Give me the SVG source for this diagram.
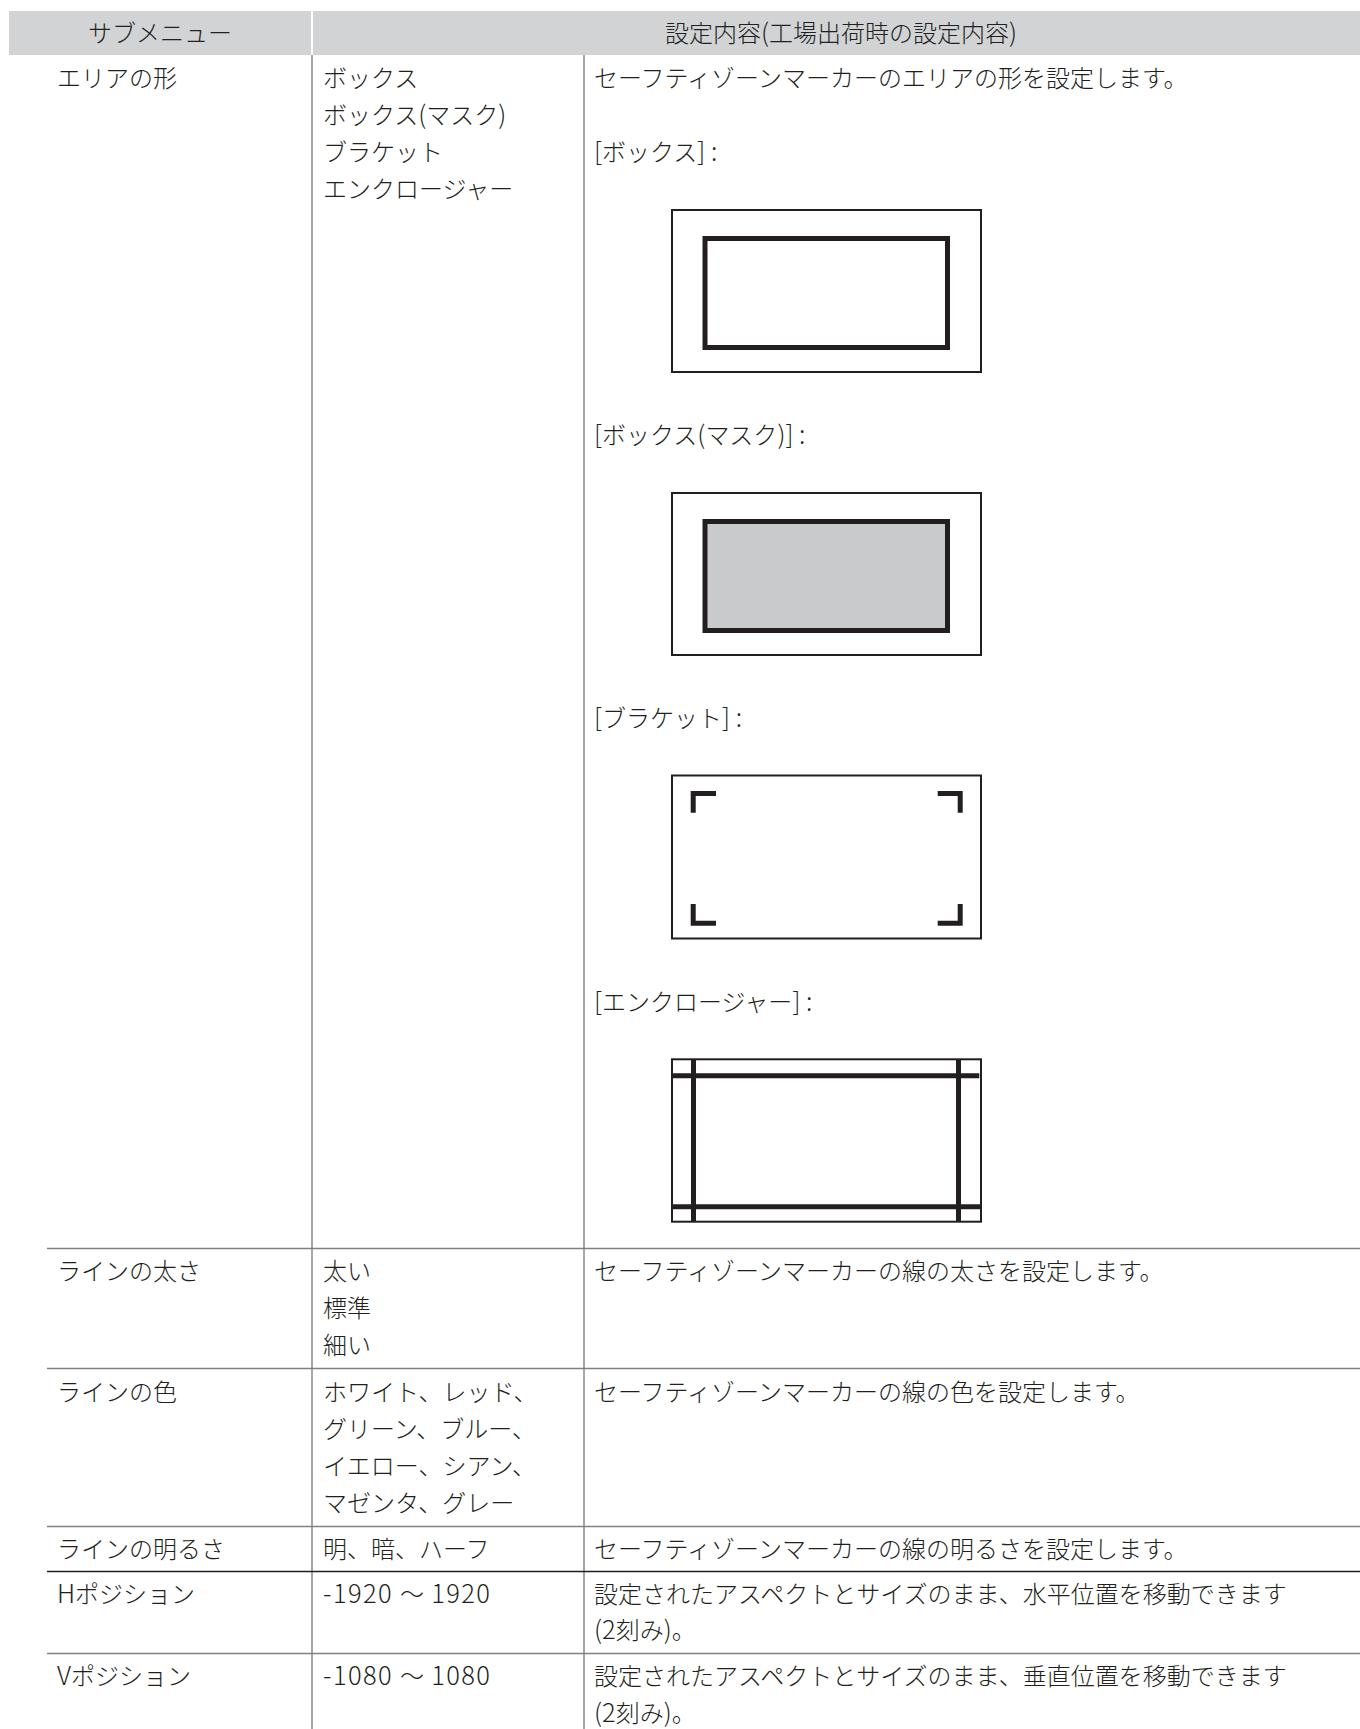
<svg xmlns="http://www.w3.org/2000/svg" width="1360" height="1729" viewBox="0 0 1360 1729">
<style>
text{font-family:"Noto Sans CJK JP","Liberation Sans",sans-serif;font-size:24px;fill:#231f20;font-weight:300}
.lat{font-size:25.5px}
.num{font-size:25.5px;letter-spacing:1.4px}
.mid{text-anchor:middle}
.grid{stroke:#808080;stroke-width:1.4;fill:none}
.dark{stroke:#231f20;stroke-width:1.4;fill:none}
.frame{fill:#fff;stroke:#231f20;stroke-width:2}
.thick{fill:none;stroke:#231f20;stroke-width:5}
.hdr{fill:#d1d3d4}
</style>
<rect width="1360" height="1729" fill="#fff"/>
<g id="header">
<rect class="hdr" x="9" y="11" width="302" height="44"/>
<rect class="hdr" x="313" y="11" width="1047" height="44"/>
<text class="mid" x="160" y="41.5">サブメニュー</text>
<text class="mid" x="841" y="41.5">設定内容<tspan class="lat">(</tspan>工場出荷時の設定内容<tspan class="lat">)</tspan></text>
</g>
<g id="grid-lines">
<line class="grid" x1="312" y1="55" x2="312" y2="1729"/>
<line class="grid" x1="584" y1="55" x2="584" y2="1729"/>
<line class="grid" x1="47" y1="1248.5" x2="1360" y2="1248.5"/>
<line class="grid" x1="47" y1="1368.5" x2="1360" y2="1368.5"/>
<line class="grid" x1="47" y1="1526.5" x2="1360" y2="1526.5"/>
<line class="dark" x1="47" y1="1571.5" x2="1360" y2="1571.5"/>
<line class="grid" x1="47" y1="1653.5" x2="1360" y2="1653.5"/>
</g>
<g id="row-area-shape">
<text x="57" y="86.5">エリアの形</text>
<text x="323" y="86.5">ボックス</text>
<text x="323" y="123.5">ボックス<tspan class="lat">(</tspan>マスク<tspan class="lat">)</tspan></text>
<text x="323" y="160.5">ブラケット</text>
<text x="323" y="197.5">エンクロージャー</text>
<text x="594" y="86.5">セーフティゾーンマーカーのエリアの形を設定します。</text>
<text x="594" y="160.5"><tspan class="lat">[</tspan>ボックス<tspan class="lat">] :</tspan></text>
<text x="594" y="444"><tspan class="lat">[</tspan>ボックス<tspan class="lat">(</tspan>マスク<tspan class="lat">)] :</tspan></text>
<text x="594" y="727"><tspan class="lat">[</tspan>ブラケット<tspan class="lat">] :</tspan></text>
<text x="594" y="1011"><tspan class="lat">[</tspan>エンクロージャー<tspan class="lat">] :</tspan></text>
</g>
<g id="fig-box">
<rect class="frame" x="672" y="210" width="309" height="162"/>
<rect class="thick" x="705" y="238.5" width="242.5" height="109"/>
</g>
<g id="fig-box-mask">
<rect class="frame" x="672" y="493" width="309" height="162"/>
<rect class="thick" x="705" y="521.5" width="242.5" height="109" style="fill:#c9cacc"/>
</g>
<g id="fig-bracket">
<rect class="frame" x="672" y="775.5" width="309" height="163"/>
<path class="thick" d="M716 793.5H693.2V812.7M937.7 793.5H960.2V812.7M693.2 904V923.2H716M960.2 904V923.2H937.7"/>
</g>
<g id="fig-enclosure">
<rect class="frame" x="672" y="1059.3" width="309" height="162.4"/>
<path class="thick" d="M671 1075.8H979.3M673 1206.8H981.7M693.5 1059V1222M958.5 1059V1222"/>
</g>
<g id="row-line-width">
<text x="57" y="1280">ラインの太さ</text>
<text x="323" y="1280">太い</text>
<text x="323" y="1317">標準</text>
<text x="323" y="1354">細い</text>
<text x="594" y="1280">セーフティゾーンマーカーの線の太さを設定します。</text>
</g>
<g id="row-line-color">
<text x="57" y="1400.5">ラインの色</text>
<text x="323" y="1400.5">ホワイト、レッド、</text>
<text x="323" y="1437.5">グリーン、ブルー、</text>
<text x="323" y="1474.5">イエロー、シアン、</text>
<text x="323" y="1511.5">マゼンタ、グレー</text>
<text x="594" y="1400.5">セーフティゾーンマーカーの線の色を設定します。</text>
</g>
<g id="row-line-brightness">
<text x="57" y="1557.5">ラインの明るさ</text>
<text x="323" y="1557.5">明、暗、ハーフ</text>
<text x="594" y="1557.5">セーフティゾーンマーカーの線の明るさを設定します。</text>
</g>
<g id="row-h-position">
<text x="57" y="1602.5"><tspan class="lat">H</tspan>ポジション</text>
<text x="323" y="1602.5"><tspan class="num">-1920 </tspan>～<tspan class="num"> 1920</tspan></text>
<text x="594" y="1602.5">設定されたアスペクトとサイズのまま、水平位置を移動できます</text>
<text x="594" y="1638.5"><tspan class="lat">(2</tspan>刻み<tspan class="lat">)</tspan>。</text>
</g>
<g id="row-v-position">
<text x="57" y="1685"><tspan class="lat">V</tspan>ポジション</text>
<text x="323" y="1685"><tspan class="num">-1080 </tspan>～<tspan class="num"> 1080</tspan></text>
<text x="594" y="1685">設定されたアスペクトとサイズのまま、垂直位置を移動できます</text>
<text x="594" y="1722"><tspan class="lat">(2</tspan>刻み<tspan class="lat">)</tspan>。</text>
</g>
</svg>
